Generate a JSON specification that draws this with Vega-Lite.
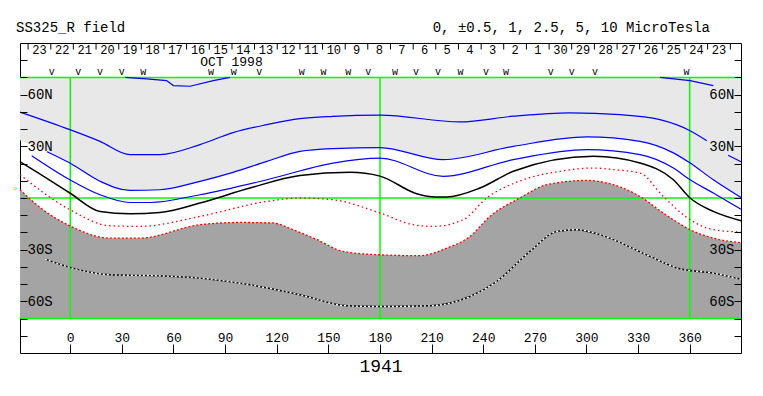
{
  "$schema": "https://vega.github.io/schema/vega-lite/v6.json",
  "width": 721,
  "height": 310,
  "autosize": {"type": "none"},
  "padding": {"left": 20, "top": 43, "right": 22, "bottom": 43},
  "background": "white",
  "config": {"view": {"stroke": "black", "strokeWidth": 1}, "font": "Liberation Mono"},
  "datasets": {
    "lines": [
      {"s":"A","lon":-29.2,"lat":49.9},{"s":"A","lon":-0.2,"lat":39.7},{"s":"A","lon":17.3,"lat":32.9},{"s":"A","lon":34.7,"lat":25.2},{"s":"A","lon":52.1,"lat":25.2},{"s":"A","lon":75.4,"lat":31.0},{"s":"A","lon":94.6,"lat":38.0},{"s":"A","lon":114.3,"lat":42.6},{"s":"A","lon":133.5,"lat":46.1},{"s":"A","lon":152.7,"lat":47.4},{"s":"A","lon":180.0,"lat":48.1},{"s":"A","lon":226.5,"lat":44.2},{"s":"A","lon":257.5,"lat":47.5},{"s":"A","lon":290.4,"lat":49.4},{"s":"A","lon":319.5,"lat":48.4},{"s":"A","lon":342.7,"lat":45.5},{"s":"A","lon":360.2,"lat":39.1},{"s":"A","lon":369.9,"lat":33.3},
      {"s":"A2","lon":382.3,"lat":24.8},{"s":"A2","lon":389.8,"lat":21.0},
      {"s":"T1","lon":31.9,"lat":70.0},{"s":"T1","lon":44.4,"lat":69.2},{"s":"T1","lon":56.0,"lat":68.2},{"s":"T1","lon":59.9,"lat":65.3},{"s":"T1","lon":69.6,"lat":64.9},{"s":"T1","lon":83.1,"lat":68.2},{"s":"T1","lon":92.8,"lat":70.0},
      {"s":"T2","lon":342.7,"lat":70.0},{"s":"T2","lon":360.2,"lat":68.2},{"s":"T2","lon":373.7,"lat":65.3},
      {"s":"B","lon":-13.5,"lat":26.9},{"s":"B","lon":-0.2,"lat":20.3},{"s":"B","lon":17.3,"lat":9.7},{"s":"B","lon":34.7,"lat":4.4},{"s":"B","lon":52.1,"lat":4.8},{"s":"B","lon":75.4,"lat":9.7},{"s":"B","lon":94.6,"lat":14.9},{"s":"B","lon":114.3,"lat":21.3},{"s":"B","lon":133.5,"lat":27.1},{"s":"B","lon":152.7,"lat":28.7},{"s":"B","lon":180.0,"lat":29.3},{"s":"B","lon":216.8,"lat":22.3},{"s":"B","lon":257.5,"lat":30.0},{"s":"B","lon":300.1,"lat":35.5},{"s":"B","lon":331.1,"lat":32.9},{"s":"B","lon":350.5,"lat":26.2},{"s":"B","lon":360.2,"lat":20.3},{"s":"B","lon":373.7,"lat":10.6},{"s":"B","lon":389.8,"lat":0.3},
      {"s":"Bf","lon":-29.2,"lat":33.5},{"s":"Bf","lon":-13.5,"lat":26.9},{"s":"Bf","lon":-0.2,"lat":20.3},{"s":"Bf","lon":17.3,"lat":9.7},{"s":"Bf","lon":34.7,"lat":4.4},{"s":"Bf","lon":52.1,"lat":4.8},{"s":"Bf","lon":75.4,"lat":9.7},{"s":"Bf","lon":94.6,"lat":14.9},{"s":"Bf","lon":114.3,"lat":21.3},{"s":"Bf","lon":133.5,"lat":27.1},{"s":"Bf","lon":152.7,"lat":28.7},{"s":"Bf","lon":180.0,"lat":29.3},{"s":"Bf","lon":216.8,"lat":22.3},{"s":"Bf","lon":257.5,"lat":30.0},{"s":"Bf","lon":300.1,"lat":35.5},{"s":"Bf","lon":331.1,"lat":32.9},{"s":"Bf","lon":350.5,"lat":26.2},{"s":"Bf","lon":360.2,"lat":20.3},{"s":"Bf","lon":373.7,"lat":10.6},{"s":"Bf","lon":389.8,"lat":0.3},
      {"s":"C","lon":-22.4,"lat":24.6},{"s":"C","lon":-0.2,"lat":10.6},{"s":"C","lon":17.3,"lat":1.9},{"s":"C","lon":34.7,"lat":-2.6},{"s":"C","lon":46.3,"lat":-2.6},{"s":"C","lon":75.4,"lat":1.9},{"s":"C","lon":114.3,"lat":10.6},{"s":"C","lon":152.7,"lat":20.3},{"s":"C","lon":180.0,"lat":23.1},{"s":"C","lon":216.8,"lat":12.6},{"s":"C","lon":257.5,"lat":22.3},{"s":"C","lon":300.1,"lat":28.1},{"s":"C","lon":331.1,"lat":25.2},{"s":"C","lon":350.5,"lat":17.4},{"s":"C","lon":360.2,"lat":10.6},{"s":"C","lon":373.7,"lat":2.9},{"s":"C","lon":389.8,"lat":-6.5},
      {"s":"Z","lon":-29.2,"lat":21.0},{"s":"Z","lon":-21.7,"lat":16.5},{"s":"Z","lon":-0.2,"lat":2.9},{"s":"Z","lon":17.3,"lat":-7.8},{"s":"Z","lon":34.7,"lat":-9.1},{"s":"Z","lon":52.1,"lat":-8.4},{"s":"Z","lon":75.4,"lat":-2.9},{"s":"Z","lon":104.4,"lat":5.8},{"s":"Z","lon":133.5,"lat":13.0},{"s":"Z","lon":162.6,"lat":14.9},{"s":"Z","lon":180.0,"lat":12.7},{"s":"Z","lon":201.3,"lat":2.5},{"s":"Z","lon":212.0,"lat":0.6},{"s":"Z","lon":218.8,"lat":0.6},{"s":"Z","lon":238.1,"lat":5.8},{"s":"Z","lon":257.5,"lat":15.5},{"s":"Z","lon":304.0,"lat":24.2},{"s":"Z","lon":331.1,"lat":20.3},{"s":"Z","lon":350.5,"lat":10.6},{"s":"Z","lon":360.2,"lat":0.0},{"s":"Z","lon":373.7,"lat":-7.8},{"s":"Z","lon":389.8,"lat":-13.2},
      {"s":"R1","lon":-29.2,"lat":13.5},{"s":"R1","lon":-0.2,"lat":-6.8},{"s":"R1","lon":23.1,"lat":-16.1},{"s":"R1","lon":40.5,"lat":-16.5},{"s":"R1","lon":75.4,"lat":-10.7},{"s":"R1","lon":114.3,"lat":-2.0},{"s":"R1","lon":133.5,"lat":0.0},{"s":"R1","lon":152.7,"lat":-1.0},{"s":"R1","lon":180.0,"lat":-8.7},{"s":"R1","lon":199.3,"lat":-15.5},{"s":"R1","lon":211.0,"lat":-16.5},{"s":"R1","lon":228.4,"lat":-12.6},{"s":"R1","lon":242.0,"lat":0.0},{"s":"R1","lon":263.3,"lat":10.6},{"s":"R1","lon":284.6,"lat":15.5},{"s":"R1","lon":304.0,"lat":17.4},{"s":"R1","lon":315.6,"lat":16.5},{"s":"R1","lon":331.1,"lat":14.5},{"s":"R1","lon":344.6,"lat":0.9},{"s":"R1","lon":360.2,"lat":-12.6},{"s":"R1","lon":373.7,"lat":-18.4},{"s":"R1","lon":389.8,"lat":-19.8},
      {"s":"R2","lon":-29.2,"lat":4.8},{"s":"R2","lon":-15.9,"lat":-6.8},{"s":"R2","lon":-0.2,"lat":-16.2},{"s":"R2","lon":23.1,"lat":-23.3},{"s":"R2","lon":40.5,"lat":-23.3},{"s":"R2","lon":75.4,"lat":-15.5},{"s":"R2","lon":98.6,"lat":-14.2},{"s":"R2","lon":117.8,"lat":-14.5},{"s":"R2","lon":129.4,"lat":-18.4},{"s":"R2","lon":143.4,"lat":-24.2},{"s":"R2","lon":158.5,"lat":-31.0},{"s":"R2","lon":180.0,"lat":-33.0},{"s":"R2","lon":203.2,"lat":-33.5},{"s":"R2","lon":218.8,"lat":-29.1},{"s":"R2","lon":232.3,"lat":-22.3},{"s":"R2","lon":243.9,"lat":-10.7},{"s":"R2","lon":261.3,"lat":0.0},{"s":"R2","lon":276.9,"lat":7.7},{"s":"R2","lon":300.1,"lat":10.2},{"s":"R2","lon":315.6,"lat":7.7},{"s":"R2","lon":331.1,"lat":0.9},{"s":"R2","lon":344.6,"lat":-8.7},{"s":"R2","lon":360.2,"lat":-18.4},{"s":"R2","lon":373.7,"lat":-23.3},{"s":"R2","lon":389.8,"lat":-26.0},
      {"s":"S","lon":-14.7,"lat":-35.5},{"s":"S","lon":-0.2,"lat":-40.3},{"s":"S","lon":23.1,"lat":-44.6},{"s":"S","lon":52.1,"lat":-45.2},{"s":"S","lon":75.4,"lat":-46.5},{"s":"S","lon":104.4,"lat":-50.4},{"s":"S","lon":133.5,"lat":-56.2},{"s":"S","lon":160.6,"lat":-62.6},{"s":"S","lon":180.0,"lat":-63.0},{"s":"S","lon":209.1,"lat":-62.6},{"s":"S","lon":232.3,"lat":-57.2},{"s":"S","lon":247.8,"lat":-48.5},{"s":"S","lon":267.2,"lat":-31.0},{"s":"S","lon":282.7,"lat":-19.4},{"s":"S","lon":294.3,"lat":-18.4},{"s":"S","lon":307.8,"lat":-21.3},{"s":"S","lon":335.0,"lat":-33.0},{"s":"S","lon":354.3,"lat":-41.1},{"s":"S","lon":373.7,"lat":-43.6},{"s":"S","lon":389.8,"lat":-47.2}
    ],
    "dates": [
      {"lon":-17.9,"d":"23"},{"lon":-4.7,"d":"22"},{"lon":8.4,"d":"21"},{"lon":21.6,"d":"20"},{"lon":34.8,"d":"19"},{"lon":47.9,"d":"18"},{"lon":61.1,"d":"17"},{"lon":74.3,"d":"16"},{"lon":87.4,"d":"15"},{"lon":100.6,"d":"14"},{"lon":113.7,"d":"13"},{"lon":126.9,"d":"12"},{"lon":140.1,"d":"11"},{"lon":153.2,"d":"10"},{"lon":166.4,"d":"9"},{"lon":179.6,"d":"8"},{"lon":192.7,"d":"7"},{"lon":205.9,"d":"6"},{"lon":219.0,"d":"5"},{"lon":232.2,"d":"4"},{"lon":245.4,"d":"3"},{"lon":258.5,"d":"2"},{"lon":271.7,"d":"1"},{"lon":284.9,"d":"30"},{"lon":298.0,"d":"29"},{"lon":311.2,"d":"28"},{"lon":324.4,"d":"27"},{"lon":337.5,"d":"26"},{"lon":350.7,"d":"25"},{"lon":363.9,"d":"24"},{"lon":377.0,"d":"23"}
    ],
    "seps": [
      {"lon":-24.5},{"lon":-11.3},{"lon":1.8},{"lon":15.0},{"lon":28.2},{"lon":41.3},{"lon":54.5},{"lon":67.6},{"lon":80.8},{"lon":94.0},{"lon":107.1},{"lon":120.3},{"lon":133.5},{"lon":146.6},{"lon":159.8},{"lon":172.9},{"lon":186.1},{"lon":199.3},{"lon":212.4},{"lon":225.6},{"lon":238.8},{"lon":251.9},{"lon":265.1},{"lon":278.3},{"lon":291.4},{"lon":304.6},{"lon":317.8},{"lon":330.9},{"lon":344.1},{"lon":357.3},{"lon":370.4},{"lon":383.6}
    ],
    "passes": [
      {"lon":-10.8,"m":"v"},{"lon":4.6,"m":"v"},{"lon":17.3,"m":"v"},{"lon":29.9,"m":"v"},{"lon":42.4,"m":"w"},{"lon":81.8,"m":"w"},{"lon":95.0,"m":"w"},{"lon":109.8,"m":"v"},{"lon":134.5,"m":"w"},{"lon":147.2,"m":"w"},{"lon":161.6,"m":"w"},{"lon":173.2,"m":"v"},{"lon":188.7,"m":"w"},{"lon":200.9,"m":"v"},{"lon":213.7,"m":"v"},{"lon":226.8,"m":"w"},{"lon":241.6,"m":"v"},{"lon":253.2,"m":"w"},{"lon":279.2,"m":"v"},{"lon":291.4,"m":"v"},{"lon":305.0,"m":"v"},{"lon":358.2,"m":"w"}
    ]
  },
  "layer": [
    {
      "data": {"name": "lines"},
      "transform": [{"filter": "datum.s == 'Bf'"}],
      "mark": {"type": "area", "fill": "#e8e8e8", "interpolate": "monotone"},
      "encoding": {
        "x": {"field": "lon", "type": "quantitative", "scale": {"domain": [-29.2, 389.8], "nice": false, "zero": false}, "axis": null},
        "y": {"field": "lat", "type": "quantitative", "scale": {"domain": [-90, 90], "nice": false, "zero": false},
          "axis": {"orient": "left", "zindex": 1, "values": [-80,-70,-60,-50,-40,-30,-20,-10,0,10,20,30,40,50,60,70,80], "tickSize": -7, "tickColor": "black", "labelPadding": 0, "labelAlign": "left", "labelBaseline": "middle", "labelExpr": "datum.value==60?'60N':datum.value==30?'30N':datum.value==-30?'30S':datum.value==-60?'60S':''", "labelFont": "Liberation Mono", "labelFontSize": 14, "labelColor": "black", "domain": false, "grid": false, "labelOverlap": false, "labelFlush": false, "title": null}},
        "y2": {"datum": 70}
      }
    },
    {
      "data": {"name": "lines"},
      "transform": [{"filter": "datum.s == 'R2'"}],
      "mark": {"type": "area", "fill": "#a4a4a4", "interpolate": "monotone"},
      "encoding": {
        "x": {"field": "lon", "type": "quantitative",
          "axis": {"orient": "bottom", "zindex": 1, "values": [0,30,60,90,120,150,180,210,240,270,300,330,360], "tickSize": -9, "tickColor": "black", "labelPadding": -7, "labelBaseline": "middle", "labelFont": "Liberation Mono", "labelFontSize": 13, "labelColor": "black", "domain": false, "grid": false, "labelOverlap": false, "labelFlush": false, "title": "1941", "titleFont": "Liberation Mono", "titleFontSize": 18, "titleFontWeight": "normal", "titleColor": "black", "titlePadding": 4}},
        "y": {"field": "lat", "type": "quantitative",
          "axis": {"orient": "right", "zindex": 1, "values": [-80,-70,-60,-50,-40,-30,-20,-10,0,10,20,30,40,50,60,70,80], "tickSize": -7, "tickColor": "black", "labelPadding": 0, "labelAlign": "right", "labelBaseline": "middle", "labelExpr": "datum.value==60?'60N':datum.value==30?'30N':datum.value==-30?'30S':datum.value==-60?'60S':''", "labelFont": "Liberation Mono", "labelFontSize": 14, "labelColor": "black", "domain": false, "grid": false, "labelOverlap": false, "labelFlush": false, "title": null}},
        "y2": {"datum": -70}
      }
    },
    {
      "data": {"values": [{"lon": 0}, {"lon": 180}, {"lon": 360}]},
      "mark": {"type": "rule", "color": "#00ff00", "strokeWidth": 1.5},
      "encoding": {"x": {"field": "lon", "type": "quantitative", "axis": null}, "y": {"datum": 70, "axis": null}, "y2": {"datum": -70}}
    },
    {
      "data": {"values": [{"lat": 70}, {"lat": 0}, {"lat": -70}]},
      "mark": {"type": "rule", "color": "#00ff00", "strokeWidth": 1.5},
      "encoding": {"y": {"field": "lat", "type": "quantitative", "axis": null}, "x": {"datum": -29.2, "axis": null}, "x2": {"datum": 389.8}}
    },
    {
      "data": {"name": "lines"},
      "transform": [{"filter": "indexof(['A','A2','B','C'], datum.s) >= 0"}],
      "mark": {"type": "line", "color": "#0000ff", "strokeWidth": 1.2, "interpolate": "monotone"},
      "encoding": {"x": {"field": "lon", "type": "quantitative", "axis": null}, "y": {"field": "lat", "type": "quantitative", "axis": null}, "detail": {"field": "s"}}
    },
    {
      "data": {"name": "lines"},
      "transform": [{"filter": "datum.s == 'T1' || datum.s == 'T2'"}],
      "mark": {"type": "line", "color": "#0000ff", "strokeWidth": 1.2},
      "encoding": {"x": {"field": "lon", "type": "quantitative", "axis": null}, "y": {"field": "lat", "type": "quantitative", "axis": null}, "detail": {"field": "s"}}
    },
    {
      "data": {"name": "lines"},
      "transform": [{"filter": "datum.s == 'Z'"}],
      "mark": {"type": "line", "color": "black", "strokeWidth": 1.5, "interpolate": "monotone"},
      "encoding": {"x": {"field": "lon", "type": "quantitative", "axis": null}, "y": {"field": "lat", "type": "quantitative", "axis": null}}
    },
    {
      "data": {"name": "lines"},
      "transform": [{"filter": "datum.s == 'R1'"}],
      "mark": {"type": "line", "color": "#ff0000", "strokeWidth": 1.3, "strokeDash": [1.5, 3], "interpolate": "monotone"},
      "encoding": {"x": {"field": "lon", "type": "quantitative", "axis": null}, "y": {"field": "lat", "type": "quantitative", "axis": null}}
    },
    {
      "data": {"name": "lines"},
      "transform": [{"filter": "datum.s == 'R2'"}],
      "mark": {"type": "line", "color": "#ff0000", "strokeWidth": 1.3, "strokeDash": [2, 2], "interpolate": "monotone"},
      "encoding": {"x": {"field": "lon", "type": "quantitative", "axis": null}, "y": {"field": "lat", "type": "quantitative", "axis": null}}
    },
    {
      "data": {"name": "lines"},
      "transform": [{"filter": "datum.s == 'S'"}],
      "mark": {"type": "line", "color": "black", "strokeWidth": 1.4, "interpolate": "monotone"},
      "encoding": {"x": {"field": "lon", "type": "quantitative", "axis": null}, "y": {"field": "lat", "type": "quantitative", "axis": null}}
    },
    {
      "data": {"name": "lines"},
      "transform": [{"filter": "datum.s == 'S'"}],
      "mark": {"type": "line", "color": "white", "strokeWidth": 1.4, "strokeDash": [2, 2], "interpolate": "monotone"},
      "encoding": {"x": {"field": "lon", "type": "quantitative", "axis": null}, "y": {"field": "lat", "type": "quantitative", "axis": null}}
    },
    {
      "data": {"name": "seps"},
      "mark": {"type": "rule", "color": "black", "strokeWidth": 1},
      "encoding": {"x": {"field": "lon", "type": "quantitative", "axis": null}, "y": {"datum": 89.4, "axis": null}, "y2": {"datum": 86.2}}
    },
    {
      "data": {"name": "dates"},
      "mark": {"type": "text", "font": "Liberation Mono", "fontSize": 12, "color": "black", "align": "center", "baseline": "alphabetic"},
      "encoding": {"x": {"field": "lon", "type": "quantitative", "axis": null}, "y": {"datum": 83.6, "axis": null}, "text": {"field": "d"}}
    },
    {
      "data": {"name": "passes"},
      "mark": {"type": "text", "font": "Liberation Mono", "fontSize": 10, "color": "black", "align": "center", "baseline": "alphabetic"},
      "encoding": {"x": {"field": "lon", "type": "quantitative", "axis": null}, "y": {"datum": 71.4, "axis": null}, "text": {"field": "m"}}
    },
    {
      "data": {"values": [{"lon": 93.7, "lat": 76.6, "label": "OCT 1998"}]},
      "mark": {"type": "text", "font": "Liberation Mono", "fontSize": 13, "color": "black", "align": "center", "baseline": "alphabetic"},
      "encoding": {"x": {"field": "lon", "type": "quantitative", "axis": null}, "y": {"field": "lat", "type": "quantitative", "axis": null}, "text": {"field": "label"}}
    },
    {
      "data": {"values": [{"lon": 291.2, "lat": 96.6, "label": "0, ±0.5, 1, 2.5, 5, 10 MicroTesla"}]},
      "mark": {"type": "text", "font": "Liberation Mono", "fontSize": 14, "color": "black", "align": "center", "baseline": "alphabetic"},
      "encoding": {"x": {"field": "lon", "type": "quantitative", "axis": null}, "y": {"field": "lat", "type": "quantitative", "axis": null}, "text": {"field": "label"}}
    },
    {
      "data": {"values": [{"lon": -31.5, "lat": 96.6, "label": "SS325_R field"}]},
      "mark": {"type": "text", "font": "Liberation Mono", "fontSize": 14, "color": "black", "align": "left", "baseline": "alphabetic"},
      "encoding": {"x": {"field": "lon", "type": "quantitative", "axis": null}, "y": {"field": "lat", "type": "quantitative", "axis": null}, "text": {"field": "label"}}
    },
    {
      "data": {"values": [{"lon": -32.1, "lat": 5.2, "label": ">"}]},
      "mark": {"type": "text", "font": "Liberation Mono", "fontSize": 8, "color": "#00ff00", "align": "center", "baseline": "middle"},
      "encoding": {"x": {"field": "lon", "type": "quantitative", "axis": null}, "y": {"field": "lat", "type": "quantitative", "axis": null}, "text": {"field": "label"}}
    }
  ],
  "resolve": {"axis": {"x": "independent", "y": "independent"}}
}
